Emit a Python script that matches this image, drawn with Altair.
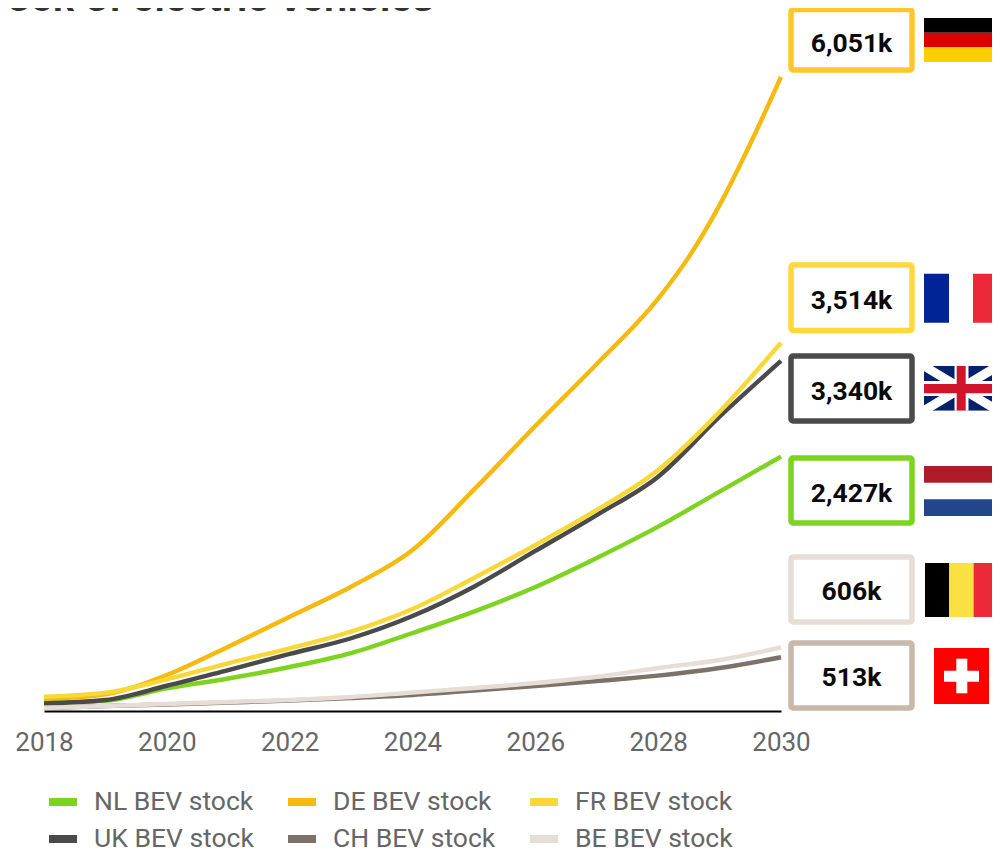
import altair as alt
import pandas as pd

years = [2018, 2019, 2020, 2021, 2022, 2023, 2024, 2025, 2026, 2027, 2028, 2029, 2030]
de_years = [2018, 2019, 2020, 2021, 2022, 2023, 2024, 2025, 2026, 2027, 2028, 2028.5, 2029, 2029.5, 2030]

nl_stock = [76, 98, 217, 310, 420, 553, 744, 948, 1183, 1460, 1759, 2093, 2427]
de_stock = [115, 160, 344, 614, 900, 1186, 1536, 2112, 2720, 3311, 3935, 4333, 4827, 5412, 6051]
fr_stock = [136, 175, 302, 455, 598, 757, 973, 1269, 1584, 1918, 2300, 2856, 3514]
uk_stock = [73, 105, 241, 391, 544, 694, 906, 1186, 1527, 1870, 2236, 2808, 3340]
ch_stock = [29, 48, 62, 81, 100, 124, 153, 194, 239, 286, 337, 410, 513]
be_stock = [29, 48, 67, 86, 105, 134, 177, 219, 267, 327, 410, 487, 606]

legend_order = ["NL BEV stock", "DE BEV stock", "FR BEV stock", "UK BEV stock", "CH BEV stock", "BE BEV stock"]
line_colors = ["#7ED321", "#F6B90F", "#F8D838", "#4A4A4A", "#7D7267", "#E6DED6"]

# drawn back to front
draw_order = [
    ("NL BEV stock", years, nl_stock),
    ("DE BEV stock", de_years, de_stock),
    ("UK BEV stock", years, uk_stock),
    ("FR BEV stock", years, fr_stock),
    ("CH BEV stock", years, ch_stock),
    ("BE BEV stock", years, be_stock),
]
rows = []
for name, xs, ys in draw_order:
    rows += [{"year": x, "stock": y, "series": name} for x, y in zip(xs, ys)]
df = pd.DataFrame(rows)

one = pd.DataFrame({"a": [0]})
PAD_L, PAD_T = 36, 0
W, H = 737, 703


def px(x):
    return x - 8 - PAD_L


def py(y):
    return y - 8 - PAD_T


def rect(x0, y0, x1, y1, fill, **kw):
    return alt.Chart(one).mark_rect(fill=fill, **kw).encode(
        x=alt.value(px(x0)), x2=alt.value(px(x1)),
        y=alt.value(py(y0)), y2=alt.value(py(y1)),
    )


def diag(x0, y0, x1, y1, color, width):
    return alt.Chart(one).mark_rule(color=color, strokeWidth=width).encode(
        x=alt.value(px(x0)), x2=alt.value(px(x1)),
        y=alt.value(py(y0)), y2=alt.value(py(y1)),
    )


def text(x, y, s, **kw):
    return alt.Chart(one).mark_text(**kw).encode(
        x=alt.value(px(x)), y=alt.value(py(y)), text=alt.value(s)
    )


lines = alt.Chart(df).mark_line(strokeWidth=4.4, interpolate="monotone").encode(
    x=alt.X("year:Q", scale=alt.Scale(domain=[2018, 2030], nice=False, zero=False),
            axis=alt.Axis(values=[2018, 2020, 2022, 2024, 2026, 2028, 2030], format="d", title=None,
                          grid=False, ticks=False, domainColor="#000000", domainWidth=2,
                          labelFont="Roboto", labelFontSize=26, labelColor="#666666",
                          labelPadding=18, labelFlush=False)),
    y=alt.Y("stock:Q", scale=alt.Scale(domain=[0, 6708], nice=False), axis=None),
    color=alt.Color("series:N", scale=alt.Scale(domain=legend_order, range=line_colors),
                    legend=alt.Legend(title=None, orient="none", legendX=1, legendY=776, columns=3,
                                      direction="horizontal",
                                      symbolType="stroke", symbolSize=784, symbolStrokeWidth=8,
                                      labelFont="Roboto", labelFontSize=26.5, labelColor="#666666",
                                      labelLimit=300, labelOffset=13, columnPadding=18, rowPadding=3)),
)

box_labels = ["6,051k", "3,514k", "3,340k", "2,427k", "606k", "513k"]
box_colors = ["#FFC72C", "#FFD93B", "#4A4A4A", "#7ED321", "#E6DED6", "#C8B8A9"]
box_tops = [9.5, 265, 356, 458, 557, 643]
box_bottoms = [70, 330.5, 421, 523, 622, 708]
box_text_mid = [44.4, 301, 392.4, 494, 592.4, 678]

boxes = []
for lab, col, t, b, m in zip(box_labels, box_colors, box_tops, box_bottoms, box_text_mid):
    boxes.append(rect(791, t, 912, b, "#FFFFFF", stroke=col, strokeWidth=5.5, cornerRadius=2))
    boxes.append(text(851.5, m, lab, font="Roboto", fontWeight="bold", fontSize=26.5,
                      color="#0A0A0A", align="center", baseline="middle"))

flags = [
    # Germany
    rect(924, 18, 998, 32.7, "#000000"), rect(924, 32.7, 998, 47.3, "#DD0000"), rect(924, 47.3, 998, 62, "#FFCE00"),
    # France
    rect(924, 273.7, 949, 322.7, "#002395"), rect(973, 273.7, 998, 322.7, "#ED2939"),
    # United Kingdom
    rect(924, 366, 998, 410.7, "#012169"),
    diag(924, 366, 998, 410.7, "#FFFFFF", 9), diag(924, 410.7, 998, 366, "#FFFFFF", 9),
    rect(924, 381, 998, 396, "#FFFFFF"), rect(954.5, 366, 968.5, 410.7, "#FFFFFF"),
    rect(924, 384, 998, 393.3, "#CF142B"), rect(956.7, 366, 965.7, 410.7, "#CF142B"),
    rect(918, 358, 924, 418, "#FFFFFF"),
    rect(918, 358, 1004, 366, "#FFFFFF"), rect(918, 410.7, 1004, 418, "#FFFFFF"),
    # Netherlands
    rect(924, 466, 998, 482.7, "#AE1C28"), rect(924, 499.3, 998, 516, "#21468B"),
    # Belgium
    rect(925, 563, 949.3, 617, "#000000"), rect(949.3, 563, 973.6, 617, "#FAE042"), rect(973.6, 563, 998, 617, "#ED2939"),
    # Switzerland
    rect(934, 648, 989, 704, "#FF0000"), rect(944, 670.7, 979, 681.7, "#FFFFFF"), rect(956.3, 658.7, 967.3, 693.3, "#FFFFFF"),
]

title = text(434, 11, "Stock of electric vehicles", font="Liberation Sans", fontWeight="bold", fontSize=39,
             color="#333333", align="right", baseline="alphabetic")

chart = alt.layer(lines, title, *boxes, *flags).properties(
    width=W, height=H,
    padding={"left": PAD_L, "top": PAD_T, "right": 211, "bottom": 140},
    autosize=alt.AutoSizeParams(type="none"),
    background="#FFFFFF",
).configure_view(stroke=None)

chart.save("out.html", embed_options={"renderer": "svg", "actions": False})
